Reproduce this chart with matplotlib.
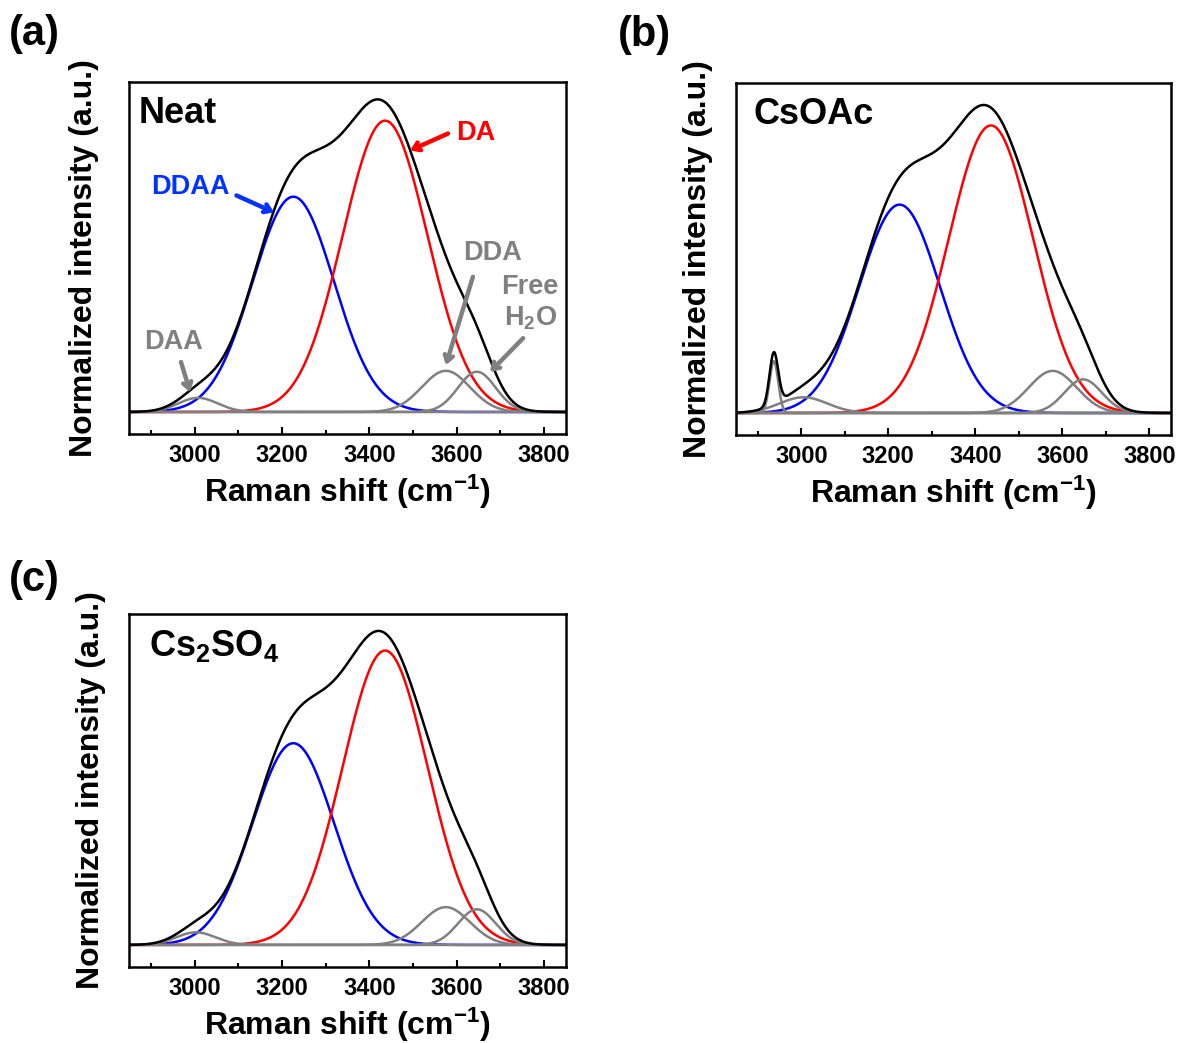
import numpy as np
import matplotlib
matplotlib.use('Agg')
import matplotlib.pyplot as plt

plt.rcParams['font.family'] = ['Liberation Sans', 'DejaVu Sans']
plt.rcParams['font.weight'] = 'bold'
plt.rcParams['mathtext.fontset'] = 'custom'
plt.rcParams['mathtext.rm'] = 'Liberation Sans:bold'
plt.rcParams['mathtext.it'] = 'Liberation Sans:bold'
plt.rcParams['mathtext.bf'] = 'Liberation Sans:bold'
plt.rcParams['mathtext.default'] = 'rm'

# gaussian peak parameters (center, sigma, height)
# order: DAA, DDAA, DA, DDA, free H2O
neat_center = [3008, 3226, 3436, 3575, 3646]
neat_sigma = [45, 93, 97, 55, 43]
neat_height = [0.045, 0.685, 0.927, 0.131, 0.128]

# CsOAc has an extra sharp C-H band of acetate at ~2937
csoac_center = [2937, 3005, 3226, 3436, 3578, 3648]
csoac_sigma = [10, 55, 93, 97, 55, 43]
csoac_height = [0.165, 0.05, 0.663, 0.915, 0.134, 0.107]

cs2so4_center = [3003, 3226, 3436, 3575, 3646]
cs2so4_sigma = [45, 93, 97, 55, 43]
cs2so4_height = [0.040, 0.640, 0.934, 0.120, 0.113]

neat_colors = ['gray', 'blue', 'red', 'gray', 'gray']
csoac_colors = ['gray', 'gray', 'blue', 'red', 'gray', 'gray']

wn = np.linspace(2850, 3850, 2001)
GREY = '#808080'


def gauss(x, c, s, h):
    return h * np.exp(-(x - c) ** 2 / (2 * s ** 2))


def panel(ax, centers, sigmas, heights, colors, name, name_x):
    total = np.zeros_like(wn)
    comps = []
    for c, s, h, col in zip(centers, sigmas, heights, colors):
        y = gauss(wn, c, s, h)
        total += y
        comps.append((y, col))
    # blue and red first, greys over them, total on top
    for y, col in comps:
        if col != 'gray':
            ax.plot(wn, y, color=col, lw=1.8)
    for y, col in comps:
        if col == 'gray':
            ax.plot(wn, y, color=GREY, lw=1.8)
    ax.plot(wn, total, color='black', lw=1.8)

    ax.set_xlim(2850, 3850)
    ax.set_ylim(-0.07, 1.05)
    ax.set_xticks([3000, 3200, 3400, 3600, 3800])
    ax.set_xticks(np.arange(2900, 3850, 200), minor=True)
    ax.set_yticks([])
    ax.tick_params(axis='x', which='major', direction='in', length=5, width=1.5,
                   labelsize=17, pad=7)
    ax.tick_params(axis='x', which='minor', direction='in', length=3, width=1.5)
    for sp in ax.spines.values():
        sp.set_linewidth(1.8)
    for lab in ax.get_xticklabels():
        lab.set_fontweight('bold')
    ax.set_xlabel('Raman shift (cm$^{-1}$)', fontsize=23, fontweight='bold', labelpad=4)
    ax.set_ylabel('Normalized intensity (a.u.)', fontsize=23, fontweight='bold')
    ax.text(name_x, 0.91, name, transform=ax.transAxes, fontsize=26,
            fontweight='bold', ha='left', va='center')


fig = plt.figure(figsize=(11.82, 10.43), dpi=100)
ax_a = fig.add_axes([129 / 1182, 1 - 434 / 1043, 437 / 1182, 352 / 1043])
ax_b = fig.add_axes([736 / 1182, 1 - 435 / 1043, 435 / 1182, 352 / 1043])
ax_c = fig.add_axes([129 / 1182, 1 - 967 / 1043, 437 / 1182, 353 / 1043])

panel(ax_a, neat_center, neat_sigma, neat_height, neat_colors, 'Neat', 0.022)
panel(ax_b, csoac_center, csoac_sigma, csoac_height, csoac_colors, 'CsOAc', 0.040)
panel(ax_c, cs2so4_center, cs2so4_sigma, cs2so4_height, neat_colors, 'Cs$_2$SO$_4$', 0.046)

ax_a.yaxis.set_label_coords(-0.068, 0.5)
ax_b.yaxis.set_label_coords(-0.052, 0.5)
ax_c.yaxis.set_label_coords(-0.052, 0.5)

# peak labels with arrows in panel (a)
arr = dict(arrowstyle='->,head_length=0.45,head_width=0.3', lw=3.2, shrinkA=0, shrinkB=0)
ax_a.annotate('', xy=(3182, 0.635), xytext=(3096, 0.689),
              arrowprops=dict(arr, color='#0033ff'))
ax_a.text(2990, 0.717, 'DDAA', color='#0033ff', fontsize=19.5, fontweight='bold',
          ha='center', va='center')
ax_a.annotate('', xy=(3493, 0.832), xytext=(3580, 0.886),
              arrowprops=dict(arr, color='red'))
ax_a.text(3644, 0.889, 'DA', color='red', fontsize=19.5, fontweight='bold',
          ha='center', va='center')
ax_a.annotate('', xy=(2990, 0.063), xytext=(2969, 0.159),
              arrowprops=dict(arr, color=GREY))
ax_a.text(2951, 0.222, 'DAA', color=GREY, fontsize=19.5, fontweight='bold',
          ha='center', va='center')
ax_a.annotate('', xy=(3575, 0.149), xytext=(3637, 0.43),
              arrowprops=dict(arr, color=GREY))
ax_a.text(3683, 0.505, 'DDA', color=GREY, fontsize=19.5, fontweight='bold',
          ha='center', va='center')
ax_a.annotate('', xy=(3676, 0.127), xytext=(3752, 0.235),
              arrowprops=dict(arr, color=GREY))
ax_a.text(3768, 0.397, 'Free', color=GREY, fontsize=19.5, fontweight='bold',
          ha='center', va='center')
ax_a.text(3768, 0.298, 'H$_2$O', color=GREY, fontsize=19.5, fontweight='bold',
          ha='center', va='center')

fig.text(9 / 1182, 1 - 34 / 1043, '(a)', fontsize=30, fontweight='bold', va='center')
fig.text(618 / 1182, 1 - 35 / 1043, '(b)', fontsize=30, fontweight='bold', va='center')
fig.text(9 / 1182, 1 - 580 / 1043, '(c)', fontsize=30, fontweight='bold', va='center')

fig.savefig('out.png', dpi=100)
